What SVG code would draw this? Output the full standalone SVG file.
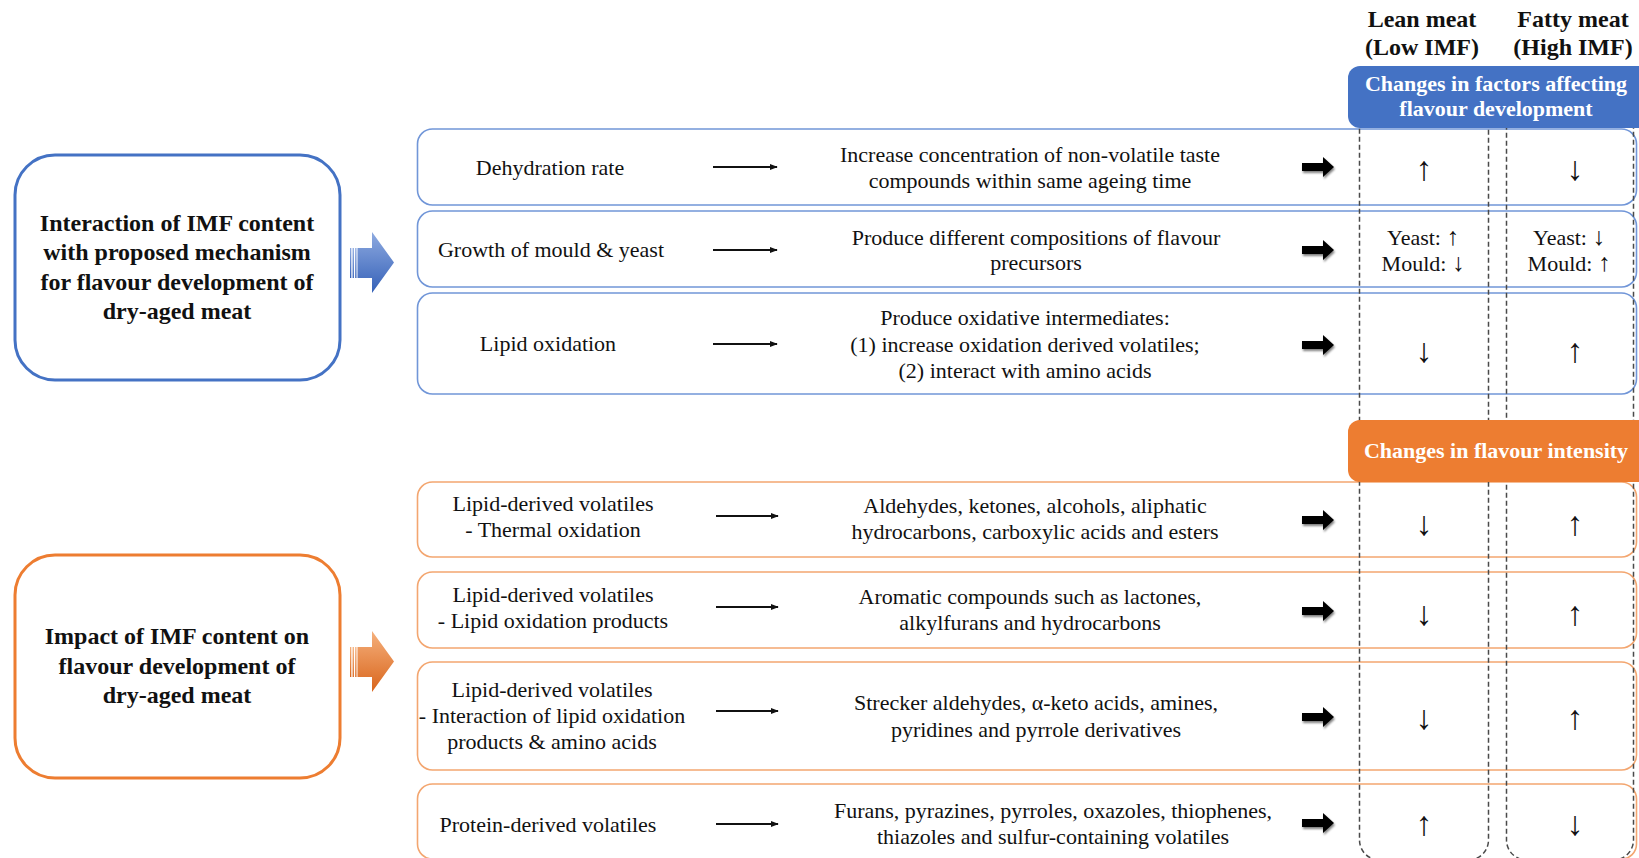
<svg xmlns="http://www.w3.org/2000/svg" width="1639" height="858" viewBox="0 0 1639 858">
<defs>
<style>
.t{font-family:"Liberation Serif","DejaVu Serif",serif;font-size:22px;fill:#111;text-anchor:middle}
.b{font-family:"Liberation Serif","DejaVu Serif",serif;font-weight:bold;font-size:24px;fill:#111;text-anchor:middle}
.h{font-family:"Liberation Serif","DejaVu Serif",serif;font-weight:bold;font-size:22px;fill:#fff;text-anchor:middle}
.ar{font-family:"Liberation Serif","DejaVu Serif",serif;font-size:34px;fill:#111;text-anchor:middle}
.sa{font-size:25px}
.rb{fill:#fff;stroke:#7196D8;stroke-width:1.6}
.ro{fill:#fff;stroke:#F3A670;stroke-width:1.6}
.col{fill:none;stroke:#4a4a4a;stroke-width:1.5;stroke-dasharray:5 3}
.con{stroke:#111;stroke-width:2;fill:none;marker-end:url(#ah)}
.big{fill:#000;filter:url(#sh)}
</style>
<marker id="ah" viewBox="0 0 10 10" refX="9" refY="5" markerWidth="4" markerHeight="4" orient="auto" markerUnits="strokeWidth">
<path d="M0,1 L10,5 L0,9 Z" fill="#111"/>
</marker>
<filter id="sh" x="-20%" y="-40%" width="150%" height="190%">
<feGaussianBlur in="SourceAlpha" stdDeviation="1.2" result="b"/>
<feOffset dx="1" dy="1.5" result="o"/>
<feComponentTransfer in="o" result="o2"><feFuncA type="linear" slope="0.5"/></feComponentTransfer>
<feMerge><feMergeNode in="o2"/><feMergeNode in="SourceGraphic"/></feMerge>
</filter>
<linearGradient id="gb" x1="0" y1="0" x2="0" y2="1">
<stop offset="0" stop-color="#8EAAE0"/>
<stop offset="1" stop-color="#3561B8"/>
</linearGradient>
<linearGradient id="go" x1="0" y1="0" x2="0" y2="1">
<stop offset="0" stop-color="#F5B07C"/>
<stop offset="1" stop-color="#D9651C"/>
</linearGradient>
</defs>
<rect width="1639" height="858" fill="#fff"/>

<!-- row boxes -->
<g id="row-dehydration"><rect class="rb" x="417.5" y="129" width="1219" height="76" rx="15"/>
<text class="t" x="550" y="175">Dehydration rate</text>
<text class="t" x="1030" y="162">Increase concentration of non-volatile taste</text>
<text class="t" x="1030" y="188">compounds within same ageing time</text></g>
<g id="row-mould"><rect class="rb" x="417.5" y="211" width="1219" height="76" rx="15"/>
<text class="t" x="551" y="257">Growth of mould &amp; yeast</text>
<text class="t" x="1036" y="245">Produce different compositions of flavour</text>
<text class="t" x="1036" y="270">precursors</text></g>
<g id="row-lipidox"><rect class="rb" x="417.5" y="293" width="1219" height="101" rx="15"/>
<text class="t" x="548" y="351">Lipid oxidation</text>
<text class="t" x="1025" y="325">Produce oxidative intermediates:</text>
<text class="t" x="1025" y="352">(1) increase oxidation derived volatiles;</text>
<text class="t" x="1025" y="378">(2) interact with amino acids</text></g>

<g id="row-thermal"><rect class="ro" x="417.5" y="482" width="1219" height="75" rx="15"/>
<text class="t" x="553" y="511">Lipid-derived volatiles</text>
<text class="t" x="553" y="537">- Thermal oxidation</text>
<text class="t" x="1035" y="513">Aldehydes, ketones, alcohols, aliphatic</text>
<text class="t" x="1035" y="539">hydrocarbons, carboxylic acids and esters</text></g>
<g id="row-lipidprod"><rect class="ro" x="417.5" y="572" width="1219" height="76" rx="15"/>
<text class="t" x="553" y="602">Lipid-derived volatiles</text>
<text class="t" x="553" y="628">- Lipid oxidation products</text>
<text class="t" x="1030" y="604">Aromatic compounds such as lactones,</text>
<text class="t" x="1030" y="630">alkylfurans and hydrocarbons</text></g>
<g id="row-interaction"><rect class="ro" x="417.5" y="662" width="1219" height="108" rx="15"/>
<text class="t" x="552" y="697">Lipid-derived volatiles</text>
<text class="t" x="552" y="723">- Interaction of lipid oxidation</text>
<text class="t" x="552" y="749">products &amp; amino acids</text>
<text class="t" x="1036" y="710">Strecker aldehydes, α-keto acids, amines,</text>
<text class="t" x="1036" y="737">pyridines and pyrrole derivatives</text></g>
<g id="row-protein"><rect class="ro" x="417.5" y="784" width="1219" height="75" rx="15"/>
<text class="t" x="548" y="832">Protein-derived volatiles</text>
<text class="t" x="1053" y="818">Furans, pyrazines, pyrroles, oxazoles, thiophenes,</text>
<text class="t" x="1053" y="844">thiazoles and sulfur-containing volatiles</text></g>

<!-- dashed columns -->
<g id="columns">
<rect class="col" x="1359.5" y="70" width="129" height="790" rx="20"/>
<rect class="col" x="1506.5" y="70" width="127" height="790" rx="20"/>
</g>

<!-- column headers -->
<g id="col-headers">
<text class="b" x="1422" y="27">Lean meat</text>
<text class="b" x="1422" y="55">(Low IMF)</text>
<text class="b" x="1573" y="27">Fatty meat</text>
<text class="b" x="1573" y="55">(High IMF)</text>
</g>
<g id="header-factors"><rect x="1348" y="66" width="310" height="62" rx="12" fill="#4472C4"/>
<text class="h" x="1496" y="91">Changes in factors affecting</text>
<text class="h" x="1496" y="116">flavour development</text></g>
<g id="header-intensity"><rect x="1348" y="420" width="310" height="62" rx="12" fill="#ED7D31"/>
<text class="h" x="1496" y="458">Changes in flavour intensity</text></g>

<!-- values -->
<g id="values">
<text class="ar" x="1424" y="180">↑</text><text class="ar" x="1575" y="180">↓</text>
<text class="t" x="1423" y="245">Yeast: <tspan class="sa">↑</tspan></text><text class="t" x="1423" y="271">Mould: <tspan class="sa">↓</tspan></text>
<text class="t" x="1569" y="245">Yeast: <tspan class="sa">↓</tspan></text><text class="t" x="1569" y="271">Mould: <tspan class="sa">↑</tspan></text>
<text class="ar" x="1424" y="362">↓</text><text class="ar" x="1575" y="362">↑</text>
<text class="ar" x="1424" y="535">↓</text><text class="ar" x="1575" y="535">↑</text>
<text class="ar" x="1424" y="625">↓</text><text class="ar" x="1575" y="625">↑</text>
<text class="ar" x="1424" y="729">↓</text><text class="ar" x="1575" y="729">↑</text>
<text class="ar" x="1424" y="835">↑</text><text class="ar" x="1575" y="835">↓</text>
</g>

<!-- left boxes -->
<g id="box-interaction"><rect x="15" y="155" width="325" height="225" rx="40" fill="#fff" stroke="#4472C4" stroke-width="3"/>
<text class="b" x="177" y="231">Interaction of IMF content</text>
<text class="b" x="177" y="260">with proposed mechanism</text>
<text class="b" x="177" y="290">for flavour development of</text>
<text class="b" x="177" y="319">dry-aged meat</text></g>
<g id="box-impact"><rect x="15" y="555" width="325" height="223" rx="40" fill="#fff" stroke="#ED7D31" stroke-width="3"/>
<text class="b" x="177" y="644">Impact of IMF content on</text>
<text class="b" x="177" y="674">flavour development of</text>
<text class="b" x="177" y="703">dry-aged meat</text></g>

<!-- connectors -->
<g id="connectors">
<g id="blue-arrow" fill="url(#gb)">
<rect x="350" y="248" width="1.3" height="30"/><rect x="352.6" y="248" width="1.3" height="30"/><rect x="355.2" y="248" width="1.3" height="30"/>
<path d="M357.5,248 L372,248 L372,232 L394,262.5 L372,293 L372,278 L357.5,278 Z"/>
</g>
<g id="orange-arrow" fill="url(#go)">
<rect x="350" y="647" width="1.3" height="30"/><rect x="352.6" y="647" width="1.3" height="30"/><rect x="355.2" y="647" width="1.3" height="30"/>
<path d="M357.5,647 L372,647 L372,631 L394,661.5 L372,692 L372,677 L357.5,677 Z"/>
</g>
<line class="con" x1="713" y1="167" x2="777" y2="167"/>
<line class="con" x1="713" y1="250" x2="777" y2="250"/>
<line class="con" x1="713" y1="344" x2="777" y2="344"/>
<line class="con" x1="716" y1="516" x2="778" y2="516"/>
<line class="con" x1="716" y1="607" x2="778" y2="607"/>
<line class="con" x1="716" y1="711" x2="778" y2="711"/>
<line class="con" x1="716" y1="824" x2="778" y2="824"/>
<path class="big" d="M1302,163 L1323,163 L1323,157 L1334,167 L1323,177 L1323,171 L1302,171 Z"/>
<path class="big" d="M1302,246 L1323,246 L1323,240 L1334,250 L1323,260 L1323,254 L1302,254 Z"/>
<path class="big" d="M1302,341 L1323,341 L1323,335 L1334,345 L1323,355 L1323,349 L1302,349 Z"/>
<path class="big" d="M1302,516 L1323,516 L1323,510 L1334,520 L1323,530 L1323,524 L1302,524 Z"/>
<path class="big" d="M1302,607 L1323,607 L1323,601 L1334,611 L1323,621 L1323,615 L1302,615 Z"/>
<path class="big" d="M1302,713 L1323,713 L1323,707 L1334,717 L1323,727 L1323,721 L1302,721 Z"/>
<path class="big" d="M1302,819 L1323,819 L1323,813 L1334,823 L1323,833 L1323,827 L1302,827 Z"/>
</g>
</svg>
